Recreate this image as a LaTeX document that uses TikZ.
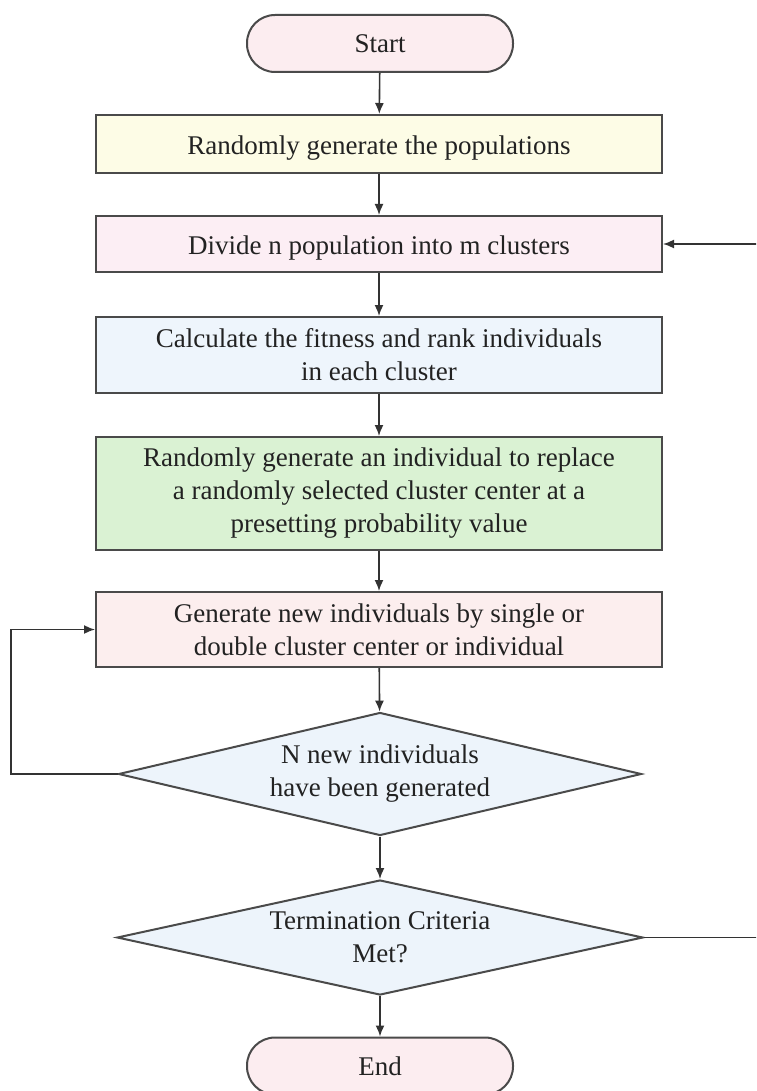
\documentclass[tikz,border=0pt]{standalone}
\usepackage{fontspec}
\setmainfont{Liberation Serif}
\usetikzlibrary{arrows.meta,shapes.geometric}
\definecolor{linec}{HTML}{333333}
\definecolor{edgec}{HTML}{4A4A4A}
\definecolor{textc}{HTML}{222222}
\definecolor{termfill}{HTML}{FCEDF0}
\definecolor{yellowfill}{HTML}{FDFCE6}
\definecolor{pinkfill}{HTML}{FCEEF4}
\definecolor{bluefill}{HTML}{EEF5FC}
\definecolor{greenfill}{HTML}{DAF2D3}
\definecolor{rosefill}{HTML}{FCEEEE}
\definecolor{diafill}{HTML}{EDF4FB}
\tikzset{
  base/.style={draw=edgec, line width=1pt, text=textc, inner sep=0pt, align=center,
    font=\fontsize{13.5}{16.5}\selectfont},
  term/.style={base, rectangle, rounded corners=14pt, fill=termfill, minimum width=133pt, minimum height=28.5pt},
  procbox/.style={base, rectangle, minimum width=283pt},
  lowertext/.style={execute at begin node={\rule{0pt}{#1}}},
  decision/.style={base, diamond, aspect=4.5, fill=diafill},
  conn/.style={draw=linec, line width=0.8pt, -{Latex[length=5.5pt,width=4.5pt]}}
}
\begin{document}
\begin{tikzpicture}[x=0.5pt,y=-0.5pt]
\useasboundingbox (0,0) rectangle (756,1091);
\clip (0,0) rectangle (756,1091);
\fill[white] (0,0) rectangle (756,1091);
\node[term] (start) at (380,43.5) {Start};
\node[procbox, lowertext=13.5pt, fill=yellowfill, minimum height=29pt] (b1) at (379,144) {Randomly generate the populations};
\node[procbox, lowertext=13.5pt, fill=pinkfill, minimum height=28pt] (b2) at (379,244) {Divide n population into m clusters};
\node[procbox, lowertext=18pt, fill=bluefill, minimum height=38pt] (b3) at (379,355) {Calculate the fitness and rank individuals\\ in each cluster};
\node[procbox, lowertext=18pt, fill=greenfill, minimum height=56.5pt] (b4) at (379,493.5) {Randomly generate an individual to replace\\ a randomly selected cluster center at a\\ presetting probability value};
\node[procbox, fill=rosefill, minimum height=37.5pt] (b5) at (379,629.5) {Generate new individuals by single or\\ double cluster center or individual};
\node[decision, minimum width=261.5pt, minimum height=61.5pt] (d1) at (380,774) {N new individuals\\ have been generated};
\node[decision, minimum width=263pt, minimum height=57.5pt] (d2) at (380,937.5) {Termination Criteria\\ Met?};
\node[term] (end) at (380,1066) {End};
\coordinate (lc1) at (11,774);
\coordinate (lc2) at (11,629.5);
\coordinate (rc1) at (790,937.5);
\coordinate (rc2) at (790,244);
\draw[conn] (start) -- (b1);
\draw[conn] (b1) -- (b2);
\draw[conn] (b2) -- (b3);
\draw[conn] (b3) -- (b4);
\draw[conn] (b4) -- (b5);
\draw[conn] (b5) -- (d1);
\draw[conn] (d1) -- (d2);
\draw[conn] (d2) -- (end);
\draw[conn] (d1.west) -- (lc1) -- (lc2) -- (b5.west);
\draw[conn] (d2.east) -- (rc1) -- (rc2) -- (b2.east);
\end{tikzpicture}
\end{document}
